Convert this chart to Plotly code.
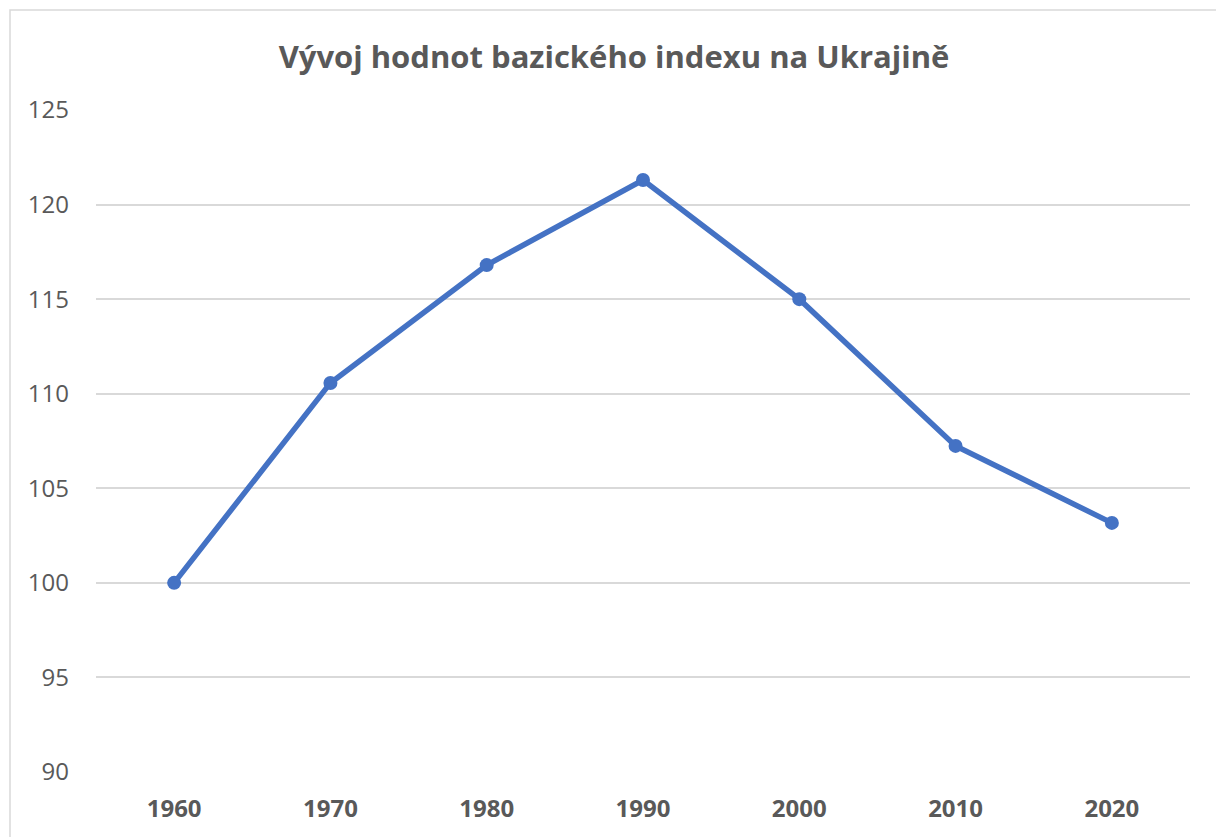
import plotly.graph_objects as go

years = ["1960", "1970", "1980", "1990", "2000", "2010", "2020"]
values = [100.0, 110.57, 116.8, 121.3, 115.0, 107.24, 103.17]
title_text = "Vývoj hodnot bazického indexu na Ukrajině"

W, H = 1224, 837
OFF = 8  # page body margin offset
# target plot area in page pixels: x 96..1190, y 110..772
L = 96 - OFF
R = W - (1190 - OFF)
T = 110 - OFF
B = H - (772 - OFF)
pw = W - L - R
ph = H - T - B

FONT = "Open Sans, Lato, sans-serif"

fig = go.Figure()
fig.add_trace(go.Scatter(
    x=years, y=values, mode="lines+markers",
    line=dict(color="#4472C4", width=5.5),
    marker=dict(color="#4472C4", size=14),
    showlegend=False, cliponaxis=False,
))

fig.update_layout(
    width=W, height=H,
    margin=dict(l=L, r=R, t=T, b=B),
    paper_bgcolor="white", plot_bgcolor="white",
    title=dict(text="<b>" + title_text + "</b>", x=(614 - OFF - L) / pw, xref="paper",
               xanchor="center", y=1 - (57 - OFF) / H, yanchor="middle",
               font=dict(family=FONT, size=31, color="#595959")),
    xaxis=dict(type="category", range=[-0.5, 6.5], showgrid=False, zeroline=False,
               showline=False, ticks="", ticklabelstandoff=20,
               tickfont=dict(family=FONT, size=24, color="#595959", weight="bold")),
    yaxis=dict(range=[90, 125], dtick=5, tick0=90, showgrid=True, gridcolor="#D9D9D9",
               gridwidth=1.5, zeroline=False, showline=False, ticks="",
               ticklabelstandoff=26,
               tickfont=dict(family=FONT, size=24, color="#595959")),
    shapes=[dict(type="rect", xref="paper", yref="paper",
                 x0=(10 - OFF - L) / pw, x1=(1219 - OFF - L) / pw,
                 y0=(H - B - 860) / ph, y1=(H - B - (10 - OFF)) / ph,
                 line=dict(color="#D9D9D9", width=1.5), fillcolor="rgba(0,0,0,0)", layer="below")],
)

fig.write_html("out.html")
